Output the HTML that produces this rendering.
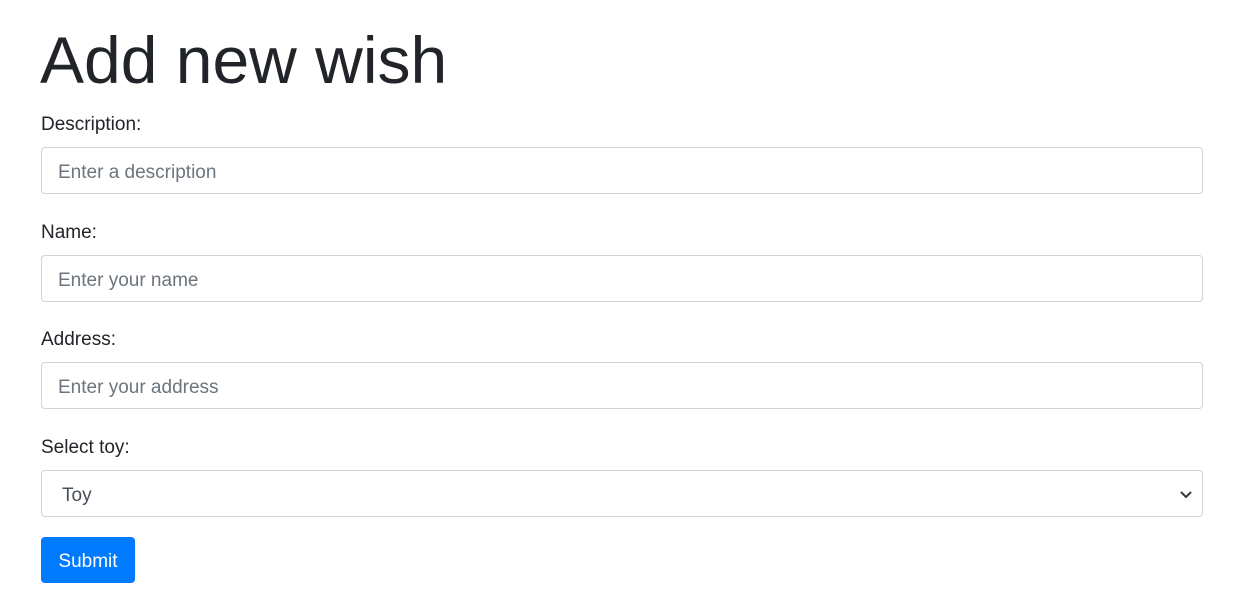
<!DOCTYPE html>
<html>
<head>
<meta charset="utf-8">
<style>
  html,body{margin:0;padding:0;background:#fff;width:1233px;height:596px;overflow:hidden;}
  body{font-family:"Liberation Sans",sans-serif;color:#212529;position:relative;}
  .title{position:absolute;left:40px;top:15px;font-size:66px;font-weight:300;line-height:90px;color:#212529;}
  .label{position:absolute;left:41px;font-size:19px;line-height:24px;color:#212529;}
  .input{position:absolute;left:41px;width:1160px;height:45px;border:1px solid #ced4da;border-radius:4px;background:#fff;box-sizing:content-box;}
  .ph{position:absolute;left:16px;top:2px;line-height:45px;font-size:19px;color:#6c757d;}
  .sel{color:#495057;left:20px;}
  .chev{position:absolute;right:10px;top:19px;}
  .btn{position:absolute;left:41px;top:537px;width:94px;height:46px;background:#007bff;border-radius:4px;color:#fff;font-size:19px;line-height:50px;text-align:center;}
</style>
</head>
<body>
  <div class="title">Add new wish</div>

  <div class="label" style="top:113px">Description:</div>
  <div class="input" style="top:147px"><span class="ph">Enter a description</span></div>

  <div class="label" style="top:221px">Name:</div>
  <div class="input" style="top:255px"><span class="ph">Enter your name</span></div>

  <div class="label" style="top:328px">Address:</div>
  <div class="input" style="top:362px"><span class="ph">Enter your address</span></div>

  <div class="label" style="top:436px">Select toy:</div>
  <div class="input" style="top:470px"><span class="ph sel">Toy</span>
    <svg class="chev" width="12" height="10" viewBox="0 0 12 10"><path d="M1.5 2.5 L6 7 L10.5 2.5" fill="none" stroke="#343a40" stroke-width="2" stroke-linecap="round" stroke-linejoin="round"/></svg>
  </div>

  <div class="btn">Submit</div>
</body>
</html>
